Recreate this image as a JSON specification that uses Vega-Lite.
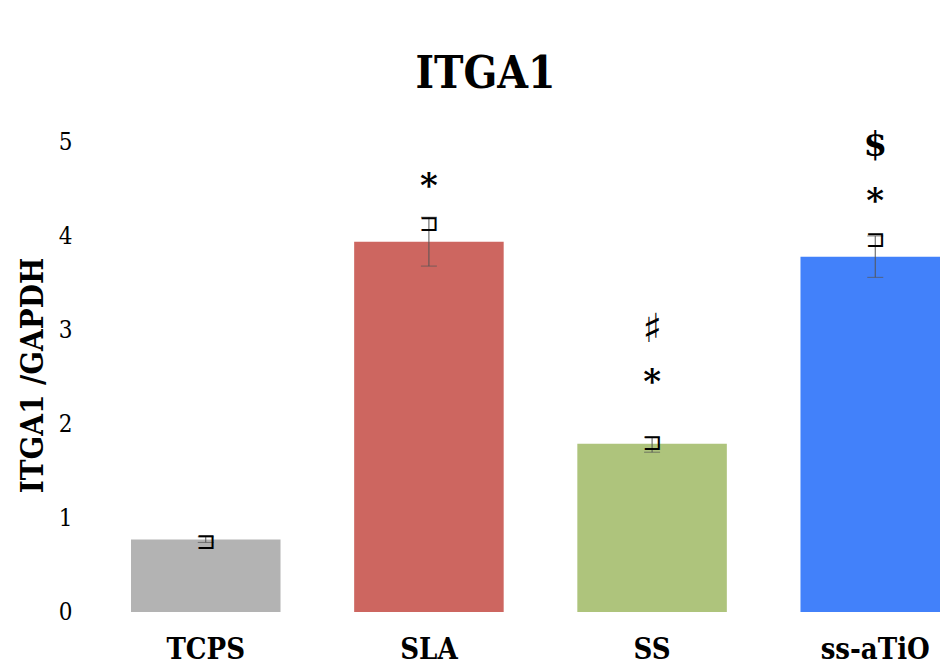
{
  "$schema": "https://vega.github.io/schema/vega-lite/v6.json",
  "autosize": "none",
  "width": 855,
  "height": 470,
  "padding": {"left": 85, "top": 142, "right": 0, "bottom": 53},
  "background": "white",
  "title": {
    "text": "ITGA1",
    "font": "DejaVu Serif Condensed",
    "fontSize": 44,
    "fontWeight": "bold",
    "color": "#000000",
    "anchor": "middle",
    "frame": "group",
    "dx": -27,
    "offset": 32
  },
  "config": {"view": {"stroke": null}},
  "datasets": {
    "bars": [
      {"group": "TCPS", "value": 0.77, "lo": 0.74, "hi": 0.80, "color": "#b3b3b3"},
      {"group": "SLA", "value": 3.94, "lo": 3.68, "hi": 4.20, "color": "#cd6660"},
      {"group": "SS", "value": 1.79, "lo": 1.70, "hi": 1.86, "color": "#aec47c"},
      {"group": "ss-aTiO", "value": 3.78, "lo": 3.56, "hi": 4.00, "color": "#4281fa"}
    ],
    "caps": [
      {"group": "TCPS", "y": 0.74, "label": "⊐"},
      {"group": "SLA", "y": 4.13, "label": "⊐"},
      {"group": "SS", "y": 1.80, "label": "⊐"},
      {"group": "ss-aTiO", "y": 3.96, "label": "⊐"}
    ],
    "notes": [
      {"group": "SLA", "y": 4.53, "label": "*"},
      {"group": "SS", "y": 2.45, "label": "*"},
      {"group": "ss-aTiO", "y": 4.37, "label": "*"},
      {"group": "ss-aTiO", "y": 4.97, "label": "$"}
    ],
    "sharps": [
      {"group": "SS", "y": 3.0, "label": "♯"}
    ]
  },
  "layer": [
    {
      "data": {"name": "bars"},
      "mark": {"type": "bar", "clip": true},
      "encoding": {
        "x": {
          "field": "group",
          "type": "nominal",
          "sort": ["TCPS", "SLA", "SS", "ss-aTiO"],
          "scale": {"range": [46, 865], "paddingInner": 0.33, "paddingOuter": 0},
          "axis": {
            "title": null,
            "labelAngle": 0,
            "labelFont": "DejaVu Serif Condensed",
            "labelFontSize": 29,
            "labelFontWeight": "bold",
            "labelColor": "#000000",
            "labelPadding": 23,
            "ticks": false,
            "domain": false
          }
        },
        "y": {
          "field": "value",
          "type": "quantitative",
          "scale": {"domain": [0, 5], "nice": false},
          "axis": {
            "values": [0, 1, 2, 3, 4, 5],
            "format": "d",
            "title": "ITGA1 /GAPDH",
            "titleFont": "DejaVu Serif Condensed",
            "titleFontSize": 31,
            "titleFontWeight": "bold",
            "titleColor": "#000000",
            "titleX": -52,
            "titleY": 233,
            "titleAngle": -90,
            "titleBaseline": "middle",
            "labelFont": "DejaVu Serif Condensed",
            "labelFontSize": 24,
            "labelColor": "#000000",
            "labelPadding": 13,
            "ticks": false,
            "domain": false,
            "grid": false
          }
        },
        "color": {"field": "color", "type": "nominal", "scale": null}
      }
    },
    {
      "data": {"name": "bars"},
      "mark": {"type": "rule", "color": "#555555", "strokeWidth": 1},
      "encoding": {
        "x": {"field": "group", "type": "nominal", "sort": ["TCPS", "SLA", "SS", "ss-aTiO"]},
        "y": {"field": "lo", "type": "quantitative"},
        "y2": {"field": "hi"}
      }
    },
    {
      "data": {"name": "bars"},
      "mark": {"type": "tick", "color": "#555555", "thickness": 1, "size": 16},
      "encoding": {
        "x": {"field": "group", "type": "nominal", "sort": ["TCPS", "SLA", "SS", "ss-aTiO"]},
        "y": {"field": "lo", "type": "quantitative"}
      }
    },
    {
      "data": {"name": "bars"},
      "mark": {"type": "tick", "color": "#555555", "thickness": 1, "size": 16},
      "encoding": {
        "x": {"field": "group", "type": "nominal", "sort": ["TCPS", "SLA", "SS", "ss-aTiO"]},
        "y": {"field": "hi", "type": "quantitative"}
      }
    },
    {
      "data": {"name": "caps"},
      "mark": {"type": "text", "font": "DejaVu Sans", "fontSize": 24, "color": "#000000", "baseline": "middle", "align": "center"},
      "encoding": {
        "x": {"field": "group", "type": "nominal", "sort": ["TCPS", "SLA", "SS", "ss-aTiO"]},
        "y": {"field": "y", "type": "quantitative"},
        "text": {"field": "label"}
      }
    },
    {
      "data": {"name": "notes"},
      "mark": {"type": "text", "font": "DejaVu Serif", "fontSize": 34, "fontWeight": "bold", "color": "#000000", "baseline": "middle", "align": "center", "dy": 1},
      "encoding": {
        "x": {"field": "group", "type": "nominal", "sort": ["TCPS", "SLA", "SS", "ss-aTiO"]},
        "y": {"field": "y", "type": "quantitative"},
        "text": {"field": "label"}
      }
    },
    {
      "data": {"name": "sharps"},
      "mark": {"type": "text", "font": "DejaVu Sans", "fontSize": 40, "color": "#000000", "baseline": "middle", "align": "center"},
      "encoding": {
        "x": {"field": "group", "type": "nominal", "sort": ["TCPS", "SLA", "SS", "ss-aTiO"]},
        "y": {"field": "y", "type": "quantitative"},
        "text": {"field": "label"}
      }
    }
  ]
}
